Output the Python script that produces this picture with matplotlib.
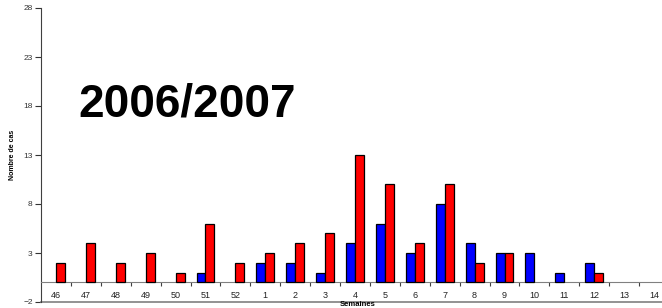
import numpy as np
from matplotlib import pyplot as plt
from matplotlib.ticker import FixedLocator

plt.rcParams['font.family'] = ['Liberation Sans', 'DejaVu Sans']

WEEKS = ['46', '47', '48', '49', '50', '51', '52', '1', '2', '3', '4',
         '5', '6', '7', '8', '9', '10', '11', '12', '13', '14']
BLUE_CASES = [0, 0, 0, 0, 0, 1, 0, 2, 2, 1, 4, 6, 3, 8, 4, 3, 3, 1, 2, 0, 0]
RED_CASES = [2, 4, 2, 3, 1, 6, 2, 3, 4, 5, 13, 10, 4, 10, 2, 3, 0, 0, 1, 0, 0]
Y_TICKS = [-2, 3, 8, 13, 18, 23, 28]

W, H = 662, 308
fig = plt.figure(figsize=(W / 100, H / 100), dpi=100)
left, right, top, bottom = 41, 669, 8, 302
ax = fig.add_axes([left / W, (H - bottom) / H, (right - left) / W,
                   (bottom - top) / H])

x = np.arange(len(WEEKS))
bw = 0.3
for offset, values, color in ((-bw / 2, BLUE_CASES, '#0000ff'),
                              (bw / 2, RED_CASES, '#ff0000')):
    # empty weeks get no bar outline
    edges = ['black' if v else 'none' for v in values]
    ax.bar(x + offset, values, bw, color=color, edgecolor=edges,
           linewidth=0.9, zorder=3)

ax.set_xlim(-0.5, len(WEEKS) - 0.5)
ax.set_ylim(-2, 28)
ax.set_yticks(Y_TICKS)
ax.tick_params(axis='y', labelsize=6, length=4, width=0.8, pad=2,
               colors='#333333')

# category axis sits on y=0, ticks between categories
ax.spines['bottom'].set_position(('data', 0))
ax.spines['bottom'].set_color('#808080')
ax.spines['top'].set_visible(False)
ax.spines['right'].set_visible(False)
ax.spines['left'].set_color('#404040')
ax.set_xticks(x)
ax.set_xticklabels(WEEKS)
ax.xaxis.set_minor_locator(FixedLocator(x[1:] - 0.5))
ax.tick_params(axis='x', which='major', length=0, labelsize=6.5, pad=6,
               labelcolor='#222222')
ax.tick_params(axis='x', which='minor', length=3, width=0.8,
               direction='out', color='#404040')
ax.axhline(-2, color='#808080', linewidth=1.2, clip_on=False)

fig.text(12 / W, 1 - 155 / H, 'Nombre de cas', rotation=90, fontsize=5,
         fontweight='bold', ha='center', va='center')
fig.text(358 / W, 1 - 304 / H, 'Semaines', fontsize=5.5, fontweight='bold',
         ha='center', va='center')
fig.text(78 / W, 1 - 105 / H, '2006/2007', fontsize=33, fontweight='bold',
         ha='left', va='center')

fig.savefig('out.png', dpi=100)
